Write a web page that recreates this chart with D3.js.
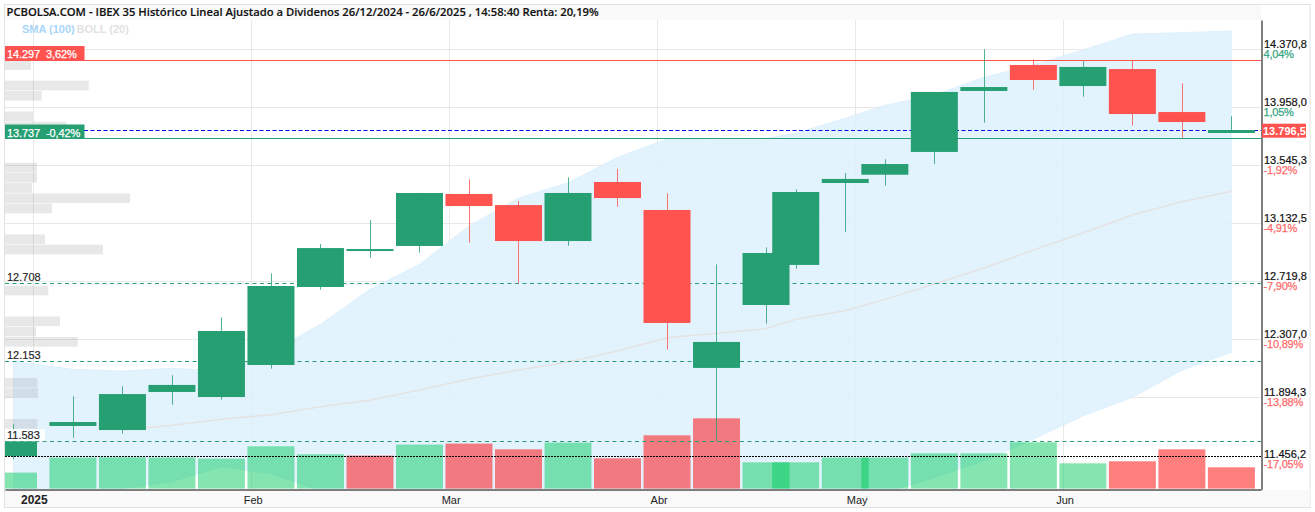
<!DOCTYPE html>
<html>
<head>
<meta charset="utf-8">
<script src="https://cdnjs.cloudflare.com/ajax/libs/d3/7.8.5/d3.min.js"></script>
<style>
body { margin: 0; background: #fff; }
text { font-family: "Liberation Sans", Arial, sans-serif; font-size: 11px; }
</style>
</head>
<body>
<svg id="chart" width="1315" height="512"></svg>
<script>
// weekly candles, position is counted in trading days (short weeks sit closer)
var tradingDay = [0,6,11,16,21,26,31,36,41,46,51,56,61,66,71,76,79,84,88,93,98,103,108,113,118,123];
var opens  = [11477,11691,11662,11933,11897,12125,12680,12936,12972,13342,13263,13007,13427,13228,12104,12552,12837,13420,13479,13641,14075,14260,14110,14231,13925,13776];
var highs  = [11703,11902,11973,12052,12464,12777,12986,13157,13349,13446,13292,13461,13520,13347,12841,12962,13375,13491,13589,14068,14372,14300,14288,14290,14130,13895];
var lows   = [11454,11607,11636,11842,11878,12099,12661,12888,12924,12995,12706,12974,13251,12234,11582,12419,12810,13073,13401,13555,13849,14084,14034,13828,13742,13776];
var closes = [11582,11719,11918,11983,12367,12687,12957,12950,13349,13256,13007,13349,13313,12424,12289,12922,13356,13449,13555,14068,14103,14153,14246,13911,13854,13797];
var volumes = [16,31,31.3,31,30,42.3,34.3,33,44,45,39.3,46,30.3,53.3,70.3,26.3,26.3,31,31,35.3,35.3,46.3,25.3,27.3,39.3,21.3];
var volumeUp = [1,1,1,1,1,1,1,0,1,0,0,1,0,0,0,1,1,1,1,1,1,1,1,0,0,0];

var bollUpper = [12151,12094,12082,12101,12082,12217,12415,12664,12841,13114,13313,13422,13603,13733,13737,13738,13774,13880,13973,14046,14172,14260,14367,14480,14490,14502];
var bollLower = [11164,11178,11246,11294,11401,11351,11228,11093,10951,10900,10850,10820,10800,10780,10750,10986,11022,11129,11221,11323,11442,11596,11762,11895,12087,12215];
var smaValues = [null,null,11662,11696,11738,11771,11828,11874,11947,12025,12089,12146,12224,12319,12350,12383,12450,12511,12592,12701,12815,12943,13064,13192,13287,13361];

var priceTicks = [14370.8,13958,13545.3,13132.5,12719.8,12307,11894.3,11456.2];
var pctTicks = ["4,04%","1,05%","-1,92%","-4,91%","-7,90%","-10,89%","-13,88%","-17,05%"];
var monthDays = [2,24,44,65,85,106];
var monthLabels = ["2025","Feb","Mar","Abr","May","Jun"];

var profileLevels = [14294,14148,14075,13929,13856,13564,13492,13419,13346,13273,13054,12981,12689,12470,12397,12324,12033,11960,11741];
var profileSizes = [26,83.7,36.7,28,61.7,32,32,27,125,47,40,98,43.3,55,31,72.7,32.3,33,32.3];
var profileBin = 72.9;

var supportLevels = [12708,12153,11583];
var supportLabels = ["12.708","12.153","11.583"];
var highLevel = 14297, lowLevel = 13737, lastPrice = 13796.5, dottedLevel = 11475;

var green = "#269F73", red = "#FF5350";

var svg = d3.select("#chart");
var x = d3.scaleLinear().domain([-0.86,125.99]).range([5,1261]);
var y = d3.scaleLinear().domain([11240.3,14580]).range([489.3,20]);
var vol = d3.scaleLinear().domain([0,100]).range([488.6,388.6]);
var profileX = d3.scaleLinear().domain([0,100]).range([5,105]);
var crisp = function(v){ return Math.floor(v+0.3)+0.5; }
var esNum = d3.formatLocale({decimal:",",thousands:".",grouping:[3],currency:["","€"]}).format(",.1f");

var candles = tradingDay.map(function(d,i){
    return {day:d,open:opens[i],high:highs[i],low:lows[i],close:closes[i],vol:volumes[i],up:volumeUp[i]};
});

svg.append("defs").append("clipPath").attr("id","plot")
    .append("rect").attr("x",5).attr("y",20).attr("width",1256).attr("height",469);

// frame
svg.append("rect").attr("x",4.5).attr("y",4.5).attr("width",1305.5).attr("height",503)
    .attr("fill","#fff").attr("stroke","#e2e2e2");
svg.append("rect").attr("x",5).attr("y",5).attr("width",1256).attr("height",15).attr("fill","#f9f9f9");
svg.append("rect").attr("x",5).attr("y",490).attr("width",1304.5).attr("height",17).attr("fill","#f9f9f9");

var plot = svg.append("g").attr("clip-path","url(#plot)");

// grid
plot.selectAll(".gridH").data(priceTicks.slice(0,7)).enter().append("line")
    .attr("x1",5).attr("x2",1261)
    .attr("y1",function(d){ return crisp(y(d)); }).attr("y2",function(d){ return crisp(y(d)); })
    .attr("stroke","#e8e8e8");
plot.selectAll(".gridV").data(monthDays).enter().append("line")
    .attr("y1",20).attr("y2",489)
    .attr("x1",function(d){ return crisp(x(d)); }).attr("x2",function(d){ return crisp(x(d)); })
    .attr("stroke","#e8e8e8");

// bollinger band
var band = d3.area()
    .x(function(d){ return x(d); })
    .y0(function(d,i){ return y(bollLower[i]); })
    .y1(function(d,i){ return y(bollUpper[i]); });
plot.append("path").attr("d",band(tradingDay))
    .attr("fill","rgb(222,241,254)").attr("fill-opacity",0.85)
    .attr("stroke","rgb(210,235,251)").attr("stroke-opacity",0.6);

// volume by price
plot.selectAll(".profile").data(profileLevels).enter().append("rect")
    .attr("x",5)
    .attr("y",function(d){ return y(d); })
    .attr("width",function(d,i){ return profileX(profileSizes[i])-5; })
    .attr("height",function(d){ return y(d-profileBin)-y(d)-0.6; })
    .attr("fill","rgb(128,128,128)").attr("fill-opacity",0.18);

// sma
var smaLine = d3.line()
    .defined(function(d,i){ return smaValues[i]!=null; })
    .x(function(d){ return x(d); })
    .y(function(d,i){ return y(smaValues[i]); });
plot.append("path").attr("d",smaLine(tradingDay))
    .attr("fill","none").attr("stroke","#e5e2e2").attr("stroke-width",1.5);

// volume bars
plot.selectAll(".vol").data(candles).enter().append("rect")
    .attr("x",function(d){ return x(d.day)-23.5; })
    .attr("width",47)
    .attr("y",function(d){ return vol(d.vol); })
    .attr("height",function(d){ return vol(0)-vol(d.vol); })
    .attr("fill",function(d){ return d.up ? "rgb(0,200,90)" : "rgb(255,0,0)"; })
    .attr("fill-opacity",function(d){ return d.up ? 0.48 : 0.5; });

// price levels, the candles go over them
plot.selectAll(".support").data(supportLevels).enter().append("line")
    .attr("x1",5).attr("x2",1261)
    .attr("y1",function(d){ return crisp(y(d)); }).attr("y2",function(d){ return crisp(y(d)); })
    .attr("stroke",green).attr("stroke-dasharray","4,3.5");
plot.append("line").attr("x1",5).attr("x2",1261)
    .attr("y1",crisp(y(dottedLevel))).attr("y2",crisp(y(dottedLevel)))
    .attr("stroke","#000").attr("stroke-dasharray","2,1");
plot.append("line").attr("x1",5).attr("x2",1261)
    .attr("y1",crisp(y(highLevel))).attr("y2",crisp(y(highLevel))).attr("stroke",red);
plot.append("line").attr("x1",5).attr("x2",1261)
    .attr("y1",crisp(y(lowLevel))).attr("y2",crisp(y(lowLevel))).attr("stroke",green);
plot.append("line").attr("x1",84).attr("x2",1261)
    .attr("y1",crisp(y(lastPrice))).attr("y2",crisp(y(lastPrice)))
    .attr("stroke","#0000ff").attr("stroke-dasharray","4,2.5");

// candles
plot.selectAll(".wick").data(candles).enter().append("line")
    .attr("x1",function(d){ return crisp(x(d.day)); })
    .attr("x2",function(d){ return crisp(x(d.day)); })
    .attr("y1",function(d){ return y(d.high); })
    .attr("y2",function(d){ return y(d.low); })
    .attr("stroke",function(d){ return d.close>=d.open ? green : red; })
    .attr("stroke-opacity",0.8);
plot.selectAll(".body").data(candles).enter().append("rect")
    .attr("x",function(d){ return x(d.day)-23.5; })
    .attr("width",47)
    .attr("y",function(d){ return y(Math.max(d.open,d.close)); })
    .attr("height",function(d){ return Math.max(2,Math.abs(y(d.open)-y(d.close))); })
    .attr("fill",function(d){ return d.close>=d.open ? green : red; });

// level labels
supportLevels.forEach(function(d,i){
    var g = svg.append("g");
    if(i==2) g.append("rect").attr("x",5).attr("y",y(d)-12).attr("width",40).attr("height",12).attr("fill","#fff").attr("fill-opacity",0.85);
    g.append("text").attr("x",7).attr("y",y(d)-2).attr("fill","#222").attr("stroke","#222").attr("stroke-width",0.15).text(supportLabels[i]);
});
svg.append("rect").attr("x",5).attr("y",46).attr("width",79.5).attr("height",14).attr("fill",red);
svg.append("text").attr("x",7).attr("y",58).attr("fill","#fff").attr("stroke","#fff").attr("stroke-width",0.25)
    .style("letter-spacing","-0.1px").attr("xml:space","preserve").text("14.297  3,62%");
svg.append("rect").attr("x",5).attr("y",124.5).attr("width",79.5).attr("height",14).attr("fill",green);
svg.append("text").attr("x",7).attr("y",136.5).attr("fill","#fff").attr("stroke","#fff").attr("stroke-width",0.25)
    .style("letter-spacing","-0.1px").attr("xml:space","preserve").text("13.737  -0,42%");

// title and legend
svg.append("text").attr("x",6.5).attr("y",16)
    .style("font-family","'Open Sans'").style("font-weight",600).style("font-size","11.25px")
    .attr("fill","#111").attr("stroke","#111").attr("stroke-width",0.15)
    .text("PCBOLSA.COM - IBEX 35 Histórico Lineal Ajustado a Dividenos 26/12/2024 - 26/6/2025 , 14:58:40 Renta: 20,19%");
svg.append("text").attr("x",22).attr("y",32.5).style("font-weight","bold").attr("fill","#a8d6fa").text("SMA (100)");
svg.append("text").attr("x",76.5).attr("y",32.5).style("font-weight","bold").attr("fill","#e2e2e2").text("BOLL (20)");

// axes
var yAxis = svg.append("g").attr("transform","translate(1261.5,0)")
    .call(d3.axisRight(y).tickValues(priceTicks).tickSize(0).tickFormat(esNum));
yAxis.select(".domain").attr("stroke","#000").attr("stroke-width",1);
yAxis.selectAll(".tick text").attr("x",2.5).attr("dy",0).attr("y",-1.5)
    .style("font-size","11px").attr("fill","#111").attr("stroke","#111").attr("stroke-width",0.2);
yAxis.selectAll(".tick").append("text")
    .attr("x",2).attr("y",8.5)
    .style("font-size","11px").style("letter-spacing","-0.2px")
    .attr("fill",function(d,i){ return pctTicks[i][0]=="-" ? "#ff6b6b" : "#35a57f"; })
    .attr("stroke",function(d,i){ return pctTicks[i][0]=="-" ? "#ff6b6b" : "#35a57f"; })
    .attr("stroke-width",0.25)
    .text(function(d,i){ return pctTicks[i]; });

var xAxis = svg.append("g").attr("transform","translate(0,489.5)")
    .call(d3.axisBottom(x).tickValues(monthDays).tickSize(0)
        .tickFormat(function(d,i){ return monthLabels[i]; }));
xAxis.select(".domain").attr("stroke","#000").attr("stroke-width",1);
xAxis.selectAll(".tick text").attr("dy",0).attr("y",14).attr("x",function(d,i){ return i==0 ? 0.5 : 1.5; })
    .style("font-size",function(d,i){ return i==0 ? "12px" : "11px"; }).attr("fill","#222")
    .style("font-weight",function(d,i){ return i==0 ? "bold" : "normal"; });

// last price tag
svg.append("rect").attr("x",1262).attr("y",123.7).attr("width",44).attr("height",14).attr("fill",red);
svg.append("text").attr("x",1263).attr("y",134.7).style("font-weight","bold").attr("fill","#fff")
    .text(esNum(lastPrice));
</script>
</body>
</html>
